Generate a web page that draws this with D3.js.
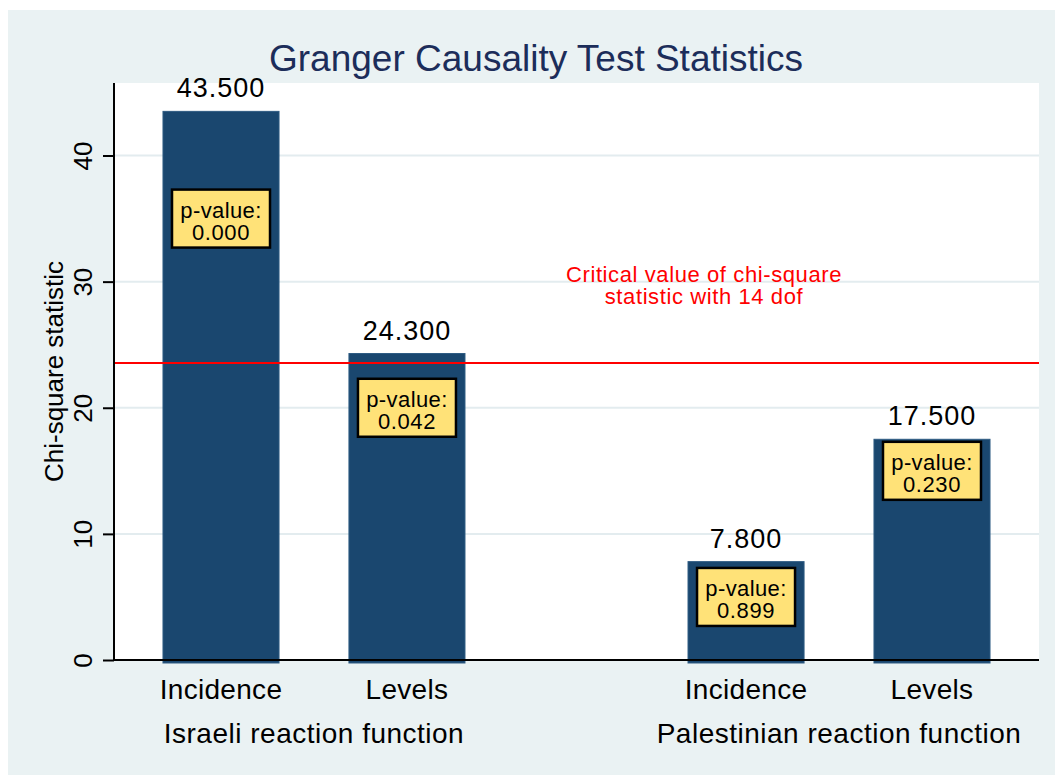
<!DOCTYPE html>
<html>
<head>
<meta charset="utf-8">
<script src="https://cdn.jsdelivr.net/npm/d3@7"></script>
<style>
  body { margin: 0; background: #ffffff; }
  text { font-family: "Liberation Sans", Arial, Helvetica, sans-serif; }
</style>
</head>
<body>
<div id="chart"></div>
<script>
// <-- ************ DATA ************ -->
const GROUPS = ["Israeli reaction function", "Palestinian reaction function"];
const CATEGORIES = ["Incidence", "Levels"];
const ISRAELI_CHI = [43.5, 24.3];
const PALESTINIAN_CHI = [7.8, 17.5];
const P_VALUES = ["0.000", "0.042", "0.899", "0.230"];
const P_LABEL_Y = [35, 20, 5, 15];     // where the p-value boxes sit (chi-square units)
const CRITICAL_VALUE = 23.55;
const CRITICAL_TEXT = ["Critical value of chi-square", "statistic with 14 dof"];
const CRITICAL_TEXT_Y = 30;
const Y_TICKS = [0, 10, 20, 30, 40];

// <-- ************ GLOBAL CONSTANTS ************ -->
const FRAME_WIDTH = 1055;
const FRAME_HEIGHT = 775;
const PLOT = {left: 114, right: 1039, top: 83, bottom: 660};

const NAVY = "#1a476f";
const BG = "#eaf2f3";

const SVG = d3.select("#chart")
              .append("svg")
              .attr("width", FRAME_WIDTH)
              .attr("height", FRAME_HEIGHT);

// graph region + plot region
SVG.append("rect")
   .attr("x", 8).attr("y", 10)
   .attr("width", FRAME_WIDTH - 8).attr("height", FRAME_HEIGHT - 10)
   .attr("fill", BG);

SVG.append("rect")
   .attr("x", PLOT.left).attr("y", PLOT.top)
   .attr("width", PLOT.right - PLOT.left).attr("height", PLOT.bottom - PLOT.top)
   .attr("fill", "#ffffff");

// build rows from the arrays
const rows = [];
GROUPS.forEach((g, gi) => {
  const vals = gi === 0 ? ISRAELI_CHI : PALESTINIAN_CHI;
  CATEGORIES.forEach((c, ci) => {
    const k = gi * CATEGORIES.length + ci;
    rows.push({group: g, cat: c, value: vals[ci], p: P_VALUES[k], py: P_LABEL_Y[k]});
  });
});

// SCALES
const Y_SCALE = d3.scaleLinear()
                  .domain([0, 45.75])
                  .range([PLOT.bottom, PLOT.top]);

const X_GROUP = d3.scaleBand()
                  .domain(GROUPS)
                  .range([PLOT.left, PLOT.right])
                  .paddingInner(0.4248)
                  .paddingOuter(0.0933);

const X_CAT = d3.scaleBand()
                .domain(CATEGORIES)
                .range([0, X_GROUP.bandwidth()])
                .paddingInner(0.376)
                .paddingOuter(0);

const barX = (d) => { return X_GROUP(d.group) + X_CAT(d.cat); };
const barMid = (d) => { return barX(d) + X_CAT.bandwidth() / 2; };

// GRID LINES
SVG.append("g")
   .selectAll("line")
   .data(Y_TICKS.filter((t) => t > 0))
   .enter()
   .append("line")
     .attr("x1", PLOT.left).attr("x2", PLOT.right)
     .attr("y1", (d) => Y_SCALE(d)).attr("y2", (d) => Y_SCALE(d))
     .attr("stroke", "#e3ecef")
     .attr("stroke-width", 2);

// BARS
SVG.append("g")
   .selectAll("rect")
   .data(rows)
   .enter()
   .append("rect")
     .attr("x", (d) => barX(d))
     .attr("y", (d) => Y_SCALE(d.value))
     .attr("width", X_CAT.bandwidth())
     .attr("height", (d) => Y_SCALE(0) - Y_SCALE(d.value) + 3)
     .attr("fill", NAVY)
     .attr("stroke", "#2e5b82")
     .attr("stroke-width", 1);

// CRITICAL VALUE LINE
SVG.append("line")
   .attr("x1", PLOT.left).attr("x2", PLOT.right)
   .attr("y1", Y_SCALE(CRITICAL_VALUE)).attr("y2", Y_SCALE(CRITICAL_VALUE))
   .attr("stroke", "#ff0000")
   .attr("stroke-width", 2);

SVG.append("g")
   .selectAll("text")
   .data(CRITICAL_TEXT)
   .enter()
   .append("text")
     .attr("x", 704)
     .attr("y", (d, i) => Y_SCALE(CRITICAL_TEXT_Y) + i * 22)
     .attr("text-anchor", "middle")
     .attr("font-size", "22px")
     .attr("letter-spacing", "0.6px")
     .attr("fill", "#ff0000")
     .text((d) => d);

// VALUE LABELS ABOVE BARS
SVG.append("g")
   .selectAll("text")
   .data(rows)
   .enter()
   .append("text")
     .attr("x", (d) => barMid(d))
     .attr("y", (d) => Y_SCALE(d.value) - 14)
     .attr("text-anchor", "middle")
     .attr("font-size", "27px")
     .attr("letter-spacing", "1px")
     .attr("fill", "#000")
     .text((d) => d3.format(".3f")(d.value));

// P-VALUE BOXES
const pBox = SVG.append("g")
   .selectAll("g")
   .data(rows)
   .enter()
   .append("g")
     .attr("transform", (d) => "translate(" + barMid(d) + "," + Y_SCALE(d.py) + ")");

pBox.append("rect")
    .attr("x", -49).attr("y", -29)
    .attr("width", 98).attr("height", 58)
    .attr("fill", "#ffe278")
    .attr("stroke", "#000")
    .attr("stroke-width", 2.5);

pBox.append("text")
    .attr("y", -1)
    .attr("text-anchor", "middle")
    .attr("font-size", "22px")
    .attr("letter-spacing", "0.4px")
    .text("p-value:");

pBox.append("text")
    .attr("y", 21)
    .attr("text-anchor", "middle")
    .attr("font-size", "22px")
    .attr("letter-spacing", "0.6px")
    .text((d) => d.p);

// Y AXIS
const yAxis = SVG.append("g")
   .attr("transform", "translate(" + PLOT.left + ",0)")
   .call(d3.axisLeft(Y_SCALE).tickValues(Y_TICKS).tickSize(11).tickPadding(0).tickFormat(d3.format("d")));

yAxis.select(".domain").attr("stroke", "#000").attr("stroke-width", 2)
     .attr("d", "M0," + PLOT.top + "V" + PLOT.bottom);
yAxis.selectAll(".tick line").attr("stroke", "#000").attr("stroke-width", 2);
yAxis.selectAll(".tick text").remove();
yAxis.selectAll(".tick")
     .append("text")
     .attr("transform", "translate(-22,0) rotate(-90)")
     .attr("text-anchor", "middle")
     .attr("font-size", "26px")
     .attr("fill", "#000")
     .text((d) => d);

// X AXIS LINE
SVG.append("line")
   .attr("x1", PLOT.left - 1).attr("x2", PLOT.right)
   .attr("y1", PLOT.bottom).attr("y2", PLOT.bottom)
   .attr("stroke", "#000")
   .attr("stroke-width", 2);

// CATEGORY + GROUP LABELS
SVG.append("g")
   .selectAll("text")
   .data(rows)
   .enter()
   .append("text")
     .attr("x", (d) => barMid(d))
     .attr("y", 699)
     .attr("text-anchor", "middle")
     .attr("font-size", "28px")
     .attr("letter-spacing", "0.3px")
     .text((d) => d.cat);

SVG.append("g")
   .selectAll("text")
   .data(GROUPS)
   .enter()
   .append("text")
     .attr("x", (d) => X_GROUP(d) + X_GROUP.bandwidth() / 2)
     .attr("y", 743)
     .attr("text-anchor", "middle")
     .attr("font-size", "28px")
     .attr("letter-spacing", "0.5px")
     .text((d) => d);

// AXIS TITLE + TITLE
SVG.append("text")
   .attr("transform", "translate(63," + ((PLOT.top + PLOT.bottom) / 2) + ") rotate(-90)")
   .attr("text-anchor", "middle")
   .attr("font-size", "26px")
   .text("Chi-square statistic");

SVG.append("text")
   .attr("x", 536)
   .attr("y", 71)
   .attr("text-anchor", "middle")
   .attr("font-size", "37px")
   .attr("fill", "#1c2d5a")
   .text("Granger Causality Test Statistics");
</script>
</body>
</html>
